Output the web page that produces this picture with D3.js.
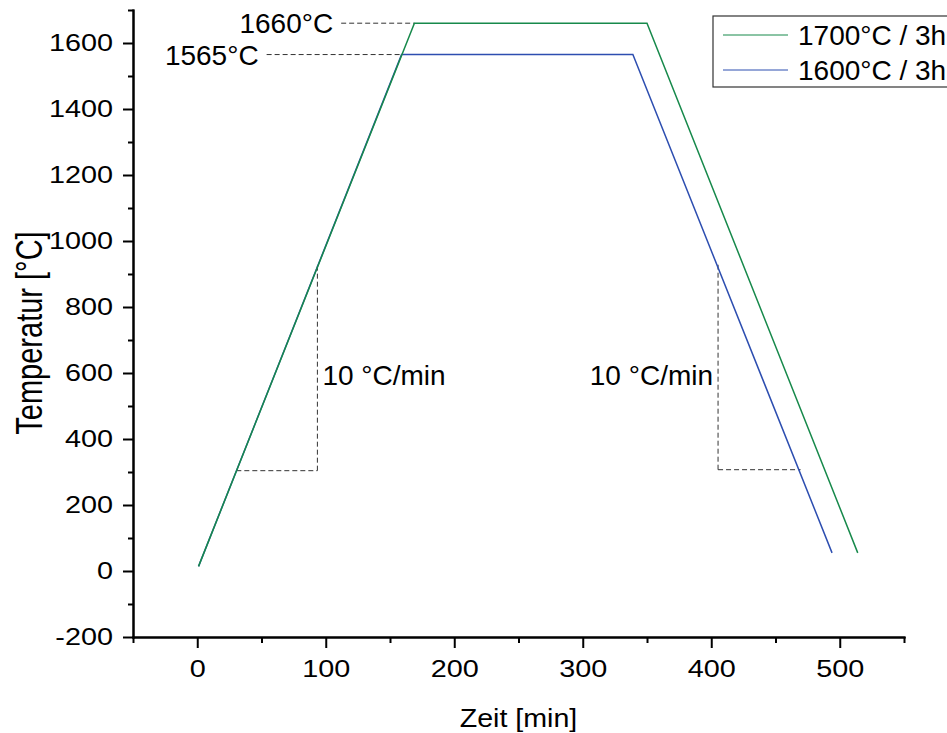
<!DOCTYPE html>
<html>
<head>
<meta charset="utf-8">
<script src="https://cdn.jsdelivr.net/npm/d3@7"></script>
<style>
  body { margin: 0; background: #fff; }
  text { font-family: "Liberation Sans", Arial, sans-serif; fill: #000; }
</style>
</head>
<body>
<script>
// series data (time in min, temperature in °C)
var seriesNames = ["1700°C / 3h", "1600°C / 3h"];
var seriesColors = ["#17894b", "#2d4eb0"];
var time1700 = [1, 169, 350, 514];
var temp1700 = [14, 1660, 1660, 55];
var time1600 = [1, 159, 339, 494];
var temp1600 = [14, 1565, 1565, 55];

// axis ticks
var xMajorTicks = [0, 100, 200, 300, 400, 500];
var xMinorTicks = [-50, 50, 150, 250, 350, 450, 550];
var yMajorTicks = [-200, 0, 200, 400, 600, 800, 1000, 1200, 1400, 1600];
var yMinorTicks = [-100, 100, 300, 500, 700, 900, 1100, 1300, 1500, 1700];

// dashed guide lines [t1, T1, t2, T2]
var plateauGuides = [[112, 1660, 169, 1660], [54, 1565, 159, 1565]];
var plateauLabels = ["1660°C", "1565°C"];
var rampGuides = [
  [30.4, 304, 93.5, 304], [93.5, 304, 93.5, 928],
  [405.3, 307, 469.5, 307], [405.3, 307, 405.3, 928]
];
var rampLabel = "10 °C/min";

var margin = {top: 10, right: 43, bottom: 96, left: 133},
    width = 947 - margin.left - margin.right,
    height = 733 - margin.top - margin.bottom;

var x = d3.scaleLinear().domain([-50, 550]).range([0, width]);
var y = d3.scaleLinear().domain([-200, 1700]).range([height, 0]);

var svg = d3.select("body")
    .append("svg")
    .attr("width", 947)
    .attr("height", 733)
    .append("g")
    .attr("transform", "translate(" + margin.left + "," + margin.top + ")");

var line = d3.line()
    .x(function(d) { return x(d[0]); })
    .y(function(d) { return y(d[1]); });

// dashed helper lines
svg.selectAll(".guide")
    .data(plateauGuides.concat(rampGuides))
    .enter().append("line")
    .attr("class", "guide")
    .attr("x1", function(d) { return x(d[0]); })
    .attr("y1", function(d) { return y(d[1]); })
    .attr("x2", function(d) { return x(d[2]); })
    .attr("y2", function(d) { return y(d[3]); })
    .attr("stroke", "#333")
    .attr("stroke-width", 1)
    .attr("stroke-dasharray", "5,3");

// data lines (blue first, green on top)
var series = [
  d3.zip(time1600, temp1600),
  d3.zip(time1700, temp1700)
];
svg.selectAll(".series")
    .data(series)
    .enter().append("path")
    .attr("class", "series")
    .attr("d", line)
    .attr("fill", "none")
    .attr("stroke", function(d, i) { return seriesColors[1 - i]; })
    .attr("stroke-width", 1.5);

// axes
var plain = function(d) { return String(d); };

var xAxis = svg.append("g")
    .attr("transform", "translate(0," + height + ")")
    .call(d3.axisBottom(x).tickValues(xMajorTicks).tickFormat(plain).tickSize(11).tickPadding(12).tickSizeOuter(0));
svg.append("g")
    .attr("transform", "translate(0," + height + ")")
    .call(d3.axisBottom(x).tickValues(xMinorTicks).tickSize(6).tickFormat("").tickSizeOuter(0));

var yAxis = svg.append("g")
    .call(d3.axisLeft(y).tickValues(yMajorTicks).tickFormat(plain).tickSize(10).tickSizeOuter(0));
svg.append("g")
    .call(d3.axisLeft(y).tickValues(yMinorTicks).tickSize(5).tickFormat("").tickSizeOuter(0));

svg.selectAll(".domain, .tick line").attr("stroke", "#000").attr("stroke-width", 2);
svg.selectAll(".domain").attr("stroke-linecap", "square");

xAxis.selectAll("text")
    .style("font-size", "24px")
    .attr("dy", "0.71em")
    .attr("transform", "scale(1.2,1)");

yAxis.selectAll("text")
    .style("font-size", "24px")
    .attr("x", -20 / 1.2)
    .attr("transform", "scale(1.2,1)");

svg.selectAll(".tick text").attr("fill", "#000");
svg.selectAll(".tick").attr("font-family", null);

// axis titles
svg.append("text")
    .attr("transform", "translate(" + (width / 2) + "," + (height + 90) + ") scale(1.1,1)")
    .style("text-anchor", "middle")
    .style("font-size", "26px")
    .text("Zeit [min]");

svg.append("text")
    .attr("transform", "translate(" + (42 - margin.left) + "," + (333 - margin.top) + ") rotate(-90) scale(1,1.25)")
    .style("text-anchor", "middle")
    .style("font-size", "29px")
    .text("Temperatur [°C]");

// plateau labels
svg.selectAll(".plabel")
    .data(plateauGuides)
    .enter().append("text")
    .attr("x", function(d) { return x(d[0]) - 8; })
    .attr("y", function(d) { return y(d[1]) + 10; })
    .style("text-anchor", "end")
    .style("font-size", "28px")
    .text(function(d, i) { return plateauLabels[i]; });

// ramp labels
svg.append("text")
    .attr("x", x(rampGuides[1][0]) + 5)
    .attr("y", y(565))
    .style("font-size", "28px")
    .text(rampLabel);
svg.append("text")
    .attr("x", x(rampGuides[3][0]) - 5)
    .attr("y", y(565))
    .style("text-anchor", "end")
    .style("font-size", "28px")
    .text(rampLabel);

// legend
var legend = svg.append("g")
    .attr("transform", "translate(" + (713 - margin.left) + "," + (16 - margin.top) + ")");
legend.append("rect")
    .attr("width", 260)
    .attr("height", 71)
    .attr("fill", "#fff")
    .attr("stroke", "#333")
    .attr("stroke-width", 1.2);
var rows = legend.selectAll(".row")
    .data(seriesNames)
    .enter().append("g")
    .attr("transform", function(d, i) { return "translate(0," + (19 + i * 35) + ")"; });
rows.append("line")
    .attr("x1", 10)
    .attr("x2", 75)
    .attr("stroke", function(d, i) { return seriesColors[i]; })
    .attr("stroke-width", 1);
rows.append("text")
    .attr("x", 85)
    .attr("y", 10)
    .style("font-size", "28px")
    .text(function(d) { return d; });
</script>
</body>
</html>
